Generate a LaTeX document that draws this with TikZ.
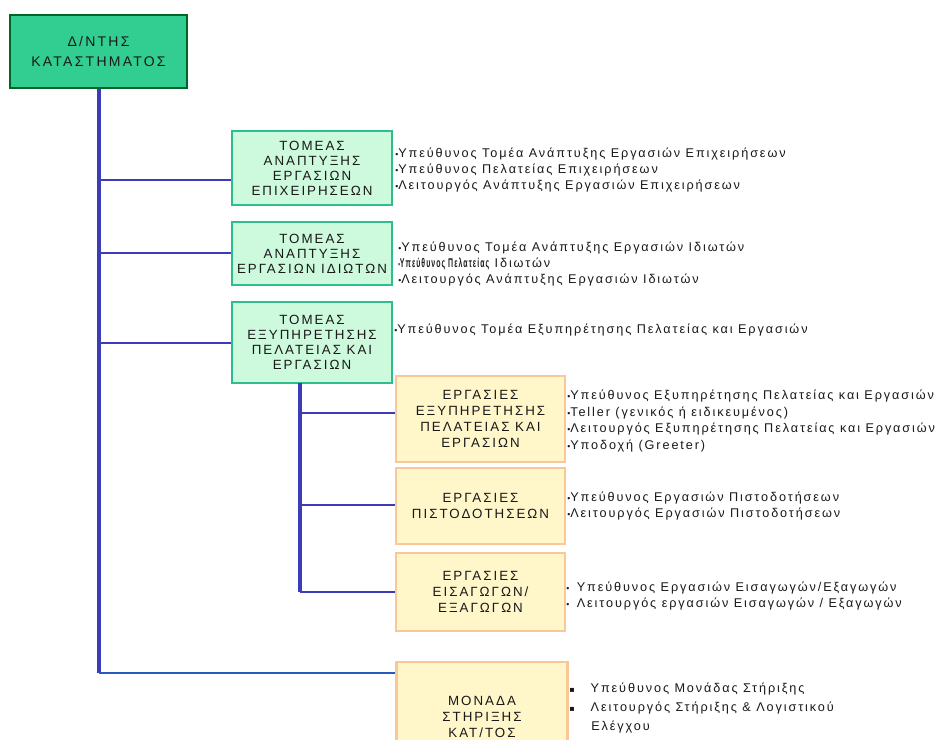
\documentclass[tikz,border=0pt]{standalone}
\usepackage{fontspec}
\usepackage{graphicx}
\setmainfont{Liberation Sans}
\newfontfamily\capsfont[LetterSpace=15]{Liberation Sans}
\newfontfamily\dirfont[LetterSpace=16]{Liberation Sans}
\newfontfamily\itemfont[LetterSpace=15]{Liberation Sans}
\newfontfamily\symfont{DejaVu Sans}
\newcommand\itdot{{\fontsize{6.5}{6}\selectfont•}}
\newcommand\sqdot{{\symfont\fontsize{6}{6}\selectfont ▪}}
\definecolor{dirfill}{RGB}{50,205,145}
\definecolor{dirline}{RGB}{0,100,40}
\definecolor{tomfill}{RGB}{205,250,220}
\definecolor{tomline}{RGB}{45,190,140}
\definecolor{ergfill}{RGB}{255,246,202}
\definecolor{ergline}{RGB}{250,200,150}
\definecolor{linecol}{RGB}{60,60,185}
\definecolor{linecolb}{RGB}{40,90,190}
\definecolor{txt}{RGB}{25,25,25}

\begin{document}
\begin{tikzpicture}[x=0.75pt,y=-0.75pt,
  dirbox/.style={draw=dirline,fill=dirfill,line width=1.6pt,inner sep=0pt,align=center,text=txt,font=\dirfont\fontsize{10.5}{15}\selectfont},
  tombox/.style={draw=tomline,fill=tomfill,line width=2.2pt,inner sep=0pt,align=center,text=txt,minimum width=120pt,font=\capsfont\fontsize{10}{11.3}\selectfont},
  ergbox/.style={draw=ergline,fill=ergfill,line width=1.8pt,inner sep=0pt,align=center,text=txt,minimum width=126.75pt,font=\capsfont\fontsize{10}{12}\selectfont},
  items/.style={anchor=west,align=left,inner sep=0pt,text=txt,font=\itemfont\fontsize{9.5}{12.3}\selectfont},
  trunk/.style={draw=linecol,line width=3pt},
  branch/.style={draw=linecol,line width=2.2pt}]
\useasboundingbox[fill=white] (0,0) rectangle (945,739);

\node[dirbox,minimum width=132.75pt,minimum height=54.75pt] (dir) at (98.5,51.5) {Δ/ΝΤΗΣ\\ΚΑΤΑΣΤΗΜΑΤΟΣ};

\node[tombox,minimum height=55.5pt] (tomA) at (312,168) {ΤΟΜΕΑΣ\\ΑΝΑΠΤΥΞΗΣ\\ΕΡΓΑΣΙΩΝ\\ΕΠΙΧΕΙΡΗΣΕΩΝ};
\node[tombox,minimum height=47.25pt] (tomB) at (312,253.5) {ΤΟΜΕΑΣ\\ΑΝΑΠΤΥΞΗΣ\\ΕΡΓΑΣΙΩΝ ΙΔΙΩΤΩΝ};
\node[tombox,minimum height=60.75pt] (tomC) at (312,342.5) {ΤΟΜΕΑΣ\\ΕΞΥΠΗΡΕΤΗΣΗΣ\\ΠΕΛΑΤΕΙΑΣ ΚΑΙ\\ΕΡΓΑΣΙΩΝ};

\node[ergbox,minimum height=64.5pt] (ergD) at (480.5,419) {ΕΡΓΑΣΙΕΣ\\ΕΞΥΠΗΡΕΤΗΣΗΣ\\ΠΕΛΑΤΕΙΑΣ ΚΑΙ\\ΕΡΓΑΣΙΩΝ};
\node[ergbox,minimum height=57pt] (ergE) at (480.5,506) {ΕΡΓΑΣΙΕΣ\\ΠΙΣΤΟΔΟΤΗΣΕΩΝ};
\node[ergbox,minimum height=58.5pt] (ergF) at (480.5,592) {ΕΡΓΑΣΙΕΣ\\ΕΙΣΑΓΩΓΩΝ/\\ΕΞΑΓΩΓΩΝ};
\node[ergbox,minimum width=128.25pt,minimum height=82.5pt] (mon) at (482,717) {ΜΟΝΑΔΑ\\ΣΤΗΡΙΞΗΣ\\ΚΑΤ/ΤΟΣ};

\coordinate (tend) at (98.5,673);
\coordinate (jA) at (98.5,180);
\coordinate (jB) at (98.5,253);
\coordinate (jC) at (98.5,343);
\coordinate (subtop) at (300,383);
\coordinate (subend) at (300,592);
\coordinate (jD) at (300,413);
\coordinate (jE) at (300,505);

\draw[trunk] (dir.south) -- (tend);
\draw[branch,draw=linecolb] (tend) -- (tend -| mon.west);
\draw[branch] (jA) -- (jA -| tomA.west);
\draw[branch] (jB) -- (jB -| tomB.west);
\draw[branch] (jC) -- (jC -| tomC.west);
\draw[trunk] (subtop) -- (subend);
\draw[branch] (jD) -- (jD -| ergD.west);
\draw[branch] (jE) -- (jE -| ergE.west);
\draw[branch] (subend) -- (subend -| ergF.west);

\node[items] (listA) at (395,170) {\itdot Υπεύθυνος Τομέα Ανάπτυξης Εργασιών Επιχειρήσεων\\\itdot Υπεύθυνος Πελατείας Επιχειρήσεων\\\itdot Λειτουργός Ανάπτυξης Εργασιών Επιχειρήσεων};
\node[items] (listB) at (398,264) {\itdot Υπεύθυνος Τομέα Ανάπτυξης Εργασιών Ιδιωτών\\\scalebox{0.55}[1]{\bfseries\itdot Υπεύθυνος Πελατείας} Ιδιωτών\\\itdot Λειτουργός Ανάπτυξης Εργασιών Ιδιωτών};
\node[items] (listC) at (394,330) {\itdot Υπεύθυνος Τομέα Εξυπηρέτησης Πελατείας και Εργασιών};
\node[items] (listD) at (567,421) {\itdot Υπεύθυνος Εξυπηρέτησης Πελατείας και Εργασιών\\\itdot Teller (γενικός ή ειδικευμένος)\\\itdot Λειτουργός Εξυπηρέτησης Πελατείας και Εργασιών\\\itdot Υποδοχή (Greeter)};
\node[items] (listE) at (567,506) {\itdot Υπεύθυνος Εργασιών Πιστοδοτήσεων\\\itdot Λειτουργός Εργασιών Πιστοδοτήσεων};
\node[items] (listF) at (566,596) {\itdot\, Υπεύθυνος Εργασιών Εισαγωγών/Εξαγωγών\\\itdot\, Λειτουργός εργασιών Εισαγωγών / Εξαγωγών};
\node[items,anchor=north west,font=\itemfont\fontsize{9.5}{14}\selectfont] (listG) at (569,683) {\sqdot\hspace{12pt}Υπεύθυνος Μονάδας Στήριξης\\\sqdot\hspace{12pt}Λειτουργός Στήριξης \& Λογιστικού\\\hspace{16.5pt}Ελέγχου};
\end{tikzpicture}
\end{document}
